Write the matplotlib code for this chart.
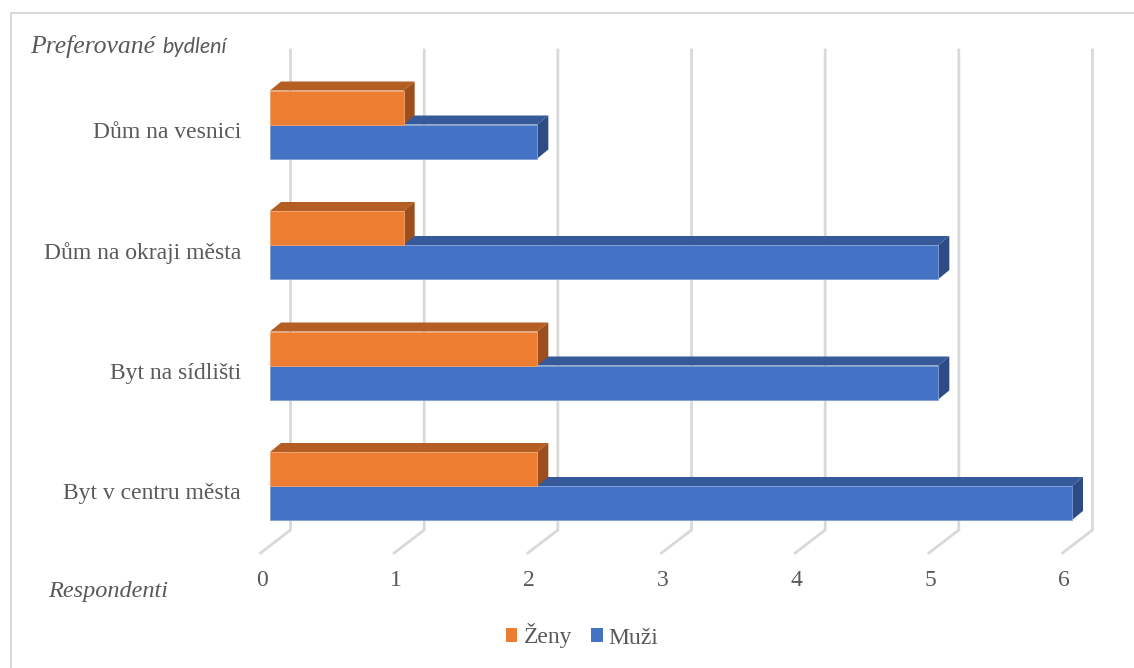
import numpy as np
import matplotlib.pyplot as plt
from matplotlib.patches import Polygon, Patch
from matplotlib.lines import Line2D

categories = ['Byt v centru města', 'Byt na sídlišti', 'Dům na okraji města', 'Dům na vesnici']
muzi = [6, 5, 5, 2]
zeny = [2, 2, 1, 1]
ticks = [0, 1, 2, 3, 4, 5, 6]

W, H = 1134, 668
# pixel layout of the plot (front plane of x=0 at px 270, x=6 at px 1072)
x0_px, unit_px = 270, (1072 - 270) / 6
y0_px, cat_px = 486, 120.5

def px(xp, yp):
    return (xp - x0_px) / unit_px, (y0_px - yp) / cat_px

fig = plt.figure(figsize=(W / 100, H / 100), dpi=100)
ax = fig.add_axes([0, 0, 1, 1])
xa, ya = px(0, H)
xb, yb = px(W, 0)
ax.set_xlim(xa, xb)
ax.set_ylim(ya, yb)
ax.axis('off')

txt = '#595959'
grid = '#D9D9D9'
serif = ['Liberation Serif', 'DejaVu Serif']

# chart border (only left/top visible)
fig.add_artist(Line2D([11 / W, 11 / W], [0, 1 - 13 / H], color=grid, lw=1.5))
fig.add_artist(Line2D([11 / W, 1], [1 - 13 / H, 1 - 13 / H], color=grid, lw=1.5))

# 3d wall gridlines
gdx = 20.5 / unit_px
_, gtop = px(0, 50)
_, gbot = px(0, 530)
fdx = -30 / unit_px
_, gfront = px(0, 553)
for t in ticks:
    ax.plot([t + gdx, t + gdx, t + gdx + fdx], [gtop, gbot, gfront], color=grid, lw=2, zorder=1,
            solid_joinstyle='miter')

# bars with depth
h = 34 / cat_px
ddx = 11 / unit_px
ddy = 9 / cat_px

def bar3d(v, y_lo, front, top, side, edge):
    y_hi = y_lo + h
    ax.add_patch(Polygon([(0, y_hi), (v, y_hi), (v + ddx, y_hi + ddy), (ddx, y_hi + ddy)],
                         closed=True, fc=top, ec='none', zorder=2))
    ax.add_patch(Polygon([(v, y_lo), (v + ddx, y_lo + ddy), (v + ddx, y_hi + ddy), (v, y_hi)],
                         closed=True, fc=side, ec='none', zorder=2))
    ax.add_patch(Polygon([(0, y_lo), (v, y_lo), (v, y_hi), (0, y_hi)],
                         closed=True, fc=front, ec=edge, lw=0.6, zorder=2))

for i, (m, z) in enumerate(zip(muzi, zeny)):
    bar3d(m, i - h, '#4472C4', '#365A99', '#2D4C86', '#7F9DD6')
    bar3d(z, i, '#ED7D31', '#B55E23', '#9C4E1C', '#F2A26E')

# category labels
for i, c in enumerate(categories):
    ax.text(px(241, 0)[0], i - 8 / cat_px, c, ha='right', va='center', fontsize=17,
            color=txt, family=serif)

# x tick labels
for t in ticks:
    ax.text(t - 8 / unit_px, px(0, 580)[1], str(t), ha='center', va='center', fontsize=17,
            color=txt, family=serif)

# axis titles
ax.text(*px(30, 47), 'Preferované', ha='left', va='center', fontsize=18.5, color=txt,
        family=serif, style='italic')
ax.text(*px(162, 47), 'bydlení', ha='left', va='center', fontsize=15.5, color=txt,
        family=['Lato', 'DejaVu Sans'], style='italic')
ax.text(*px(48, 592), 'Respondenti', ha='left', va='center', fontsize=17.5, color=txt,
        family=serif, style='italic')

handles = [Patch(fc='#ED7D31', ec='none', label='Ženy'), Patch(fc='#4472C4', ec='none', label='Muži')]
fig.legend(handles=handles, loc='center', bbox_to_anchor=(582 / W, 1 - 636 / H), ncol=2,
           frameon=False, prop={'family': serif, 'size': 17}, labelcolor=txt,
           handlelength=0.5, handleheight=0.5, handletextpad=0.25, columnspacing=0.8)

fig.savefig('out.png', dpi=100)
